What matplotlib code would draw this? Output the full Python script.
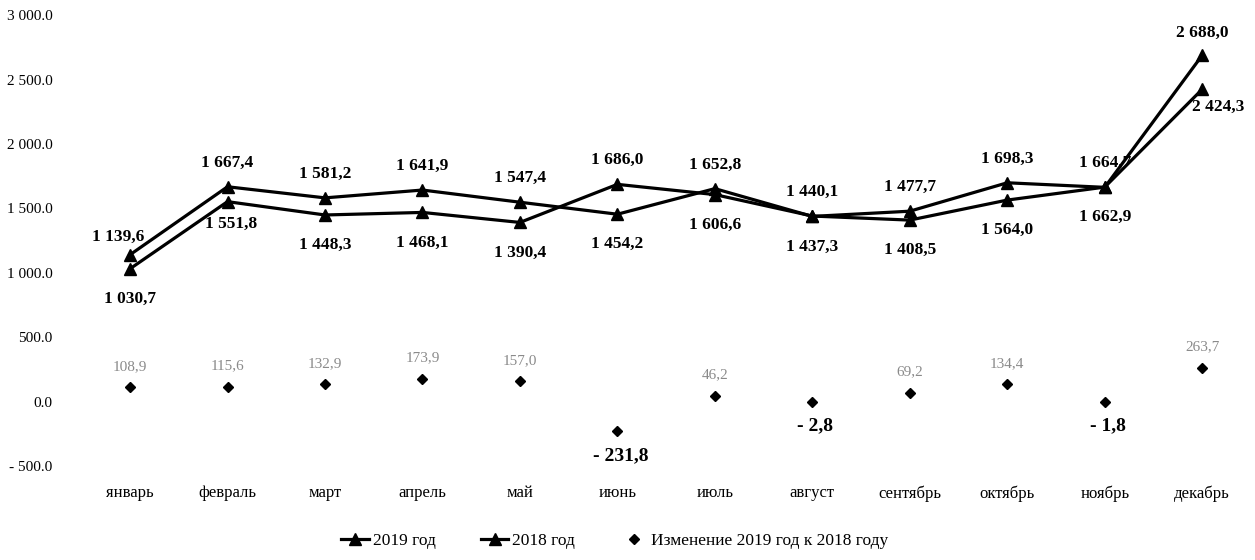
import matplotlib
matplotlib.use('Agg')
import matplotlib.pyplot as plt
from matplotlib.ticker import FuncFormatter

plt.rcParams['font.family'] = ['Liberation Serif', 'DejaVu Serif']

#months and values
months = ['январь', 'февраль', 'март', 'апрель', 'май', 'июнь',
          'июль', 'август', 'сентябрь', 'октябрь', 'ноябрь', 'декабрь']
y2019 = [1139.6, 1667.4, 1581.2, 1641.9, 1547.4, 1454.2,
         1652.8, 1437.3, 1477.7, 1698.3, 1662.9, 2688.0]
y2018 = [1030.7, 1551.8, 1448.3, 1468.1, 1390.4, 1686.0,
         1606.6, 1440.1, 1408.5, 1564.0, 1664.7, 2424.3]
change = [108.9, 115.6, 132.9, 173.9, 157.0, -231.8,
          46.2, -2.8, 69.2, 134.4, -1.8, 263.7]

#number format like "1 139,6"
def fmtVal(v):
    s = '{:,.1f}'.format(abs(v)).replace(',', ' ').replace('.', ',')
    if v < 0:
        s = '- ' + s
    return s

def fmtTick(v, pos):
    s = '{:,.1f}'.format(abs(v)).replace(',', ' ')
    if v < 0:
        s = '- ' + s
    return s

fig = plt.figure(figsize=(12.55, 5.6), dpi=100)
ax = fig.add_axes([0.064, 0.168, 0.925, 0.805])
xs = list(range(len(months)))

ax.plot(xs, y2019, color='black', lw=2.3, marker='^', ms=8.5, label='2019 год')
ax.plot(xs, y2018, color='black', lw=2.3, marker='^', ms=8.5, label='2018 год')
ax.plot(xs, change, ls='none', color='black', marker='D', ms=5.5,
        label='Изменение 2019 год к 2018 году')

#labels for the two lines: higher value above, lower value below
for i in xs:
    a, b = y2019[i], y2018[i]
    hi, lo = max(a, b), min(a, b)
    dxHi, dyHi, dxLo, dyLo, haLo = 0, 24, 0, -30, 'center'
    if i == 0:
        dxHi, dyHi = -12, 18
    if i == 1:
        dxLo, dyLo = 4, -22
    if i == 11:
        dxLo, dyLo, haLo = -10, -18, 'left'
        dyHi = 22
    ax.annotate(fmtVal(hi), (i, hi), xytext=(dxHi, dyHi), textcoords='offset pixels',
                ha='center', va='center', fontsize=12.5, fontweight='bold')
    ax.annotate(fmtVal(lo), (i, lo), xytext=(dxLo, dyLo), textcoords='offset pixels',
                ha=haLo, va='center', fontsize=12.5, fontweight='bold')

#labels for change points
for i in xs:
    v = change[i]
    if v >= 0:
        ax.annotate(fmtVal(v), (i, v), xytext=(0, 21), textcoords='offset pixels',
                    ha='center', va='center', fontsize=11, color='#8a8a8a')
    else:
        ax.annotate(fmtVal(v), (i, v), xytext=(3, -24), textcoords='offset pixels',
                    ha='center', va='center', fontsize=14, fontweight='bold')

ax.set_xlim(-0.51, 11.4)
ax.set_ylim(-500, 3000)
ax.set_yticks([-500, 0, 500, 1000, 1500, 2000, 2500, 3000])
ax.yaxis.set_major_formatter(FuncFormatter(fmtTick))
ax.set_xticks(xs)
ax.set_xticklabels(months, fontsize=12)
ax.tick_params(axis='both', length=0)
ax.tick_params(axis='x', pad=14)
ax.tick_params(axis='y', labelsize=11, pad=20)
for sp in ax.spines.values():
    sp.set_visible(False)

fig.legend(loc='lower center', bbox_to_anchor=(0.49, -0.008), ncol=3, frameon=False,
           fontsize=12.5, handlelength=1.6, handletextpad=0.2, columnspacing=2.6)

fig.savefig('out.png', dpi=100)
